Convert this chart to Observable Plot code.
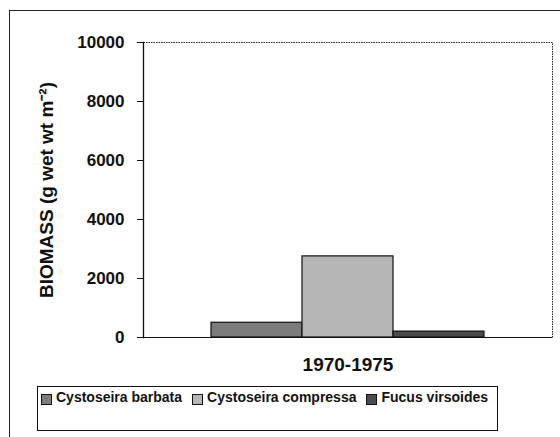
<!DOCTYPE html>
<html><head><meta charset="utf-8">
<script src="https://cdn.jsdelivr.net/npm/d3@7"></script>
<script src="https://cdn.jsdelivr.net/npm/@observablehq/plot@0.6"></script>
<style>
body{margin:0;background:#fff;font-family:"Liberation Sans",Arial,sans-serif;}
#wrap{position:relative;width:560px;height:437px;overflow:hidden;background:#fff;}
#outer{position:absolute;left:9px;top:10px;width:600px;height:500px;border-left:1.5px solid #222;border-top:1.5px solid #222;}
#chart{position:absolute;left:0;top:0;}
#legend{position:absolute;left:37px;top:386px;width:461px;height:45px;border:1px solid #111;box-sizing:border-box;}
#items{position:absolute;left:3px;top:2px;display:flex;align-items:center;gap:10px;}
.item{display:flex;align-items:center;font-size:14px;font-weight:bold;color:#111;white-space:nowrap;}
.sw{width:11px;height:11px;border:1px solid #111;margin-right:4px;margin-top:4px;box-sizing:border-box;}
</style>
</head><body>
<div id="wrap"><div id="outer"></div><div id="chart"></div><div id="legend"><div id="items"></div></div></div>
<script>
const periods = ["1970-1975"];
const species = ["Cystoseira barbata", "Cystoseira compressa", "Fucus virsoides"];
const biomass = [500, 2750, 200];
const fills = ["#7c7c7c", "#b6b6b6", "#4c4c4c"];
const yTicks = [0, 2000, 4000, 6000, 8000, 10000];

const data = species.map((s, i) => ({period: periods[0], species: s, value: biomass[i]}));

const chart = Plot.plot({
  width: 560, height: 380,
  marginLeft: 143, marginRight: 8, marginTop: 42, marginBottom: 43,
  style: {fontFamily: "'Liberation Sans', Arial, sans-serif", fontSize: "17px", fontWeight: "bold", color: "#111", background: "transparent"},
  fx: {domain: periods, padding: 0, label: null},
  x: {domain: species, axis: null, paddingInner: 0, paddingOuter: 0.73},
  y: {domain: [0, 10000]},
  color: {domain: species, range: fills},
  marks: [
    Plot.frame({stroke: "#222", strokeDasharray: "1.5,1"}),
    Plot.barY(data, {fx: "period", x: "species", y: "value", fill: "species", stroke: "#111", strokeWidth: 1.2}),
    Plot.ruleY([0], {stroke: "#111", strokeWidth: 1.2}),
    Plot.frame({anchor: "left", stroke: "#111", strokeWidth: 1.3}),
    Plot.axisY({ticks: yTicks, tickSize: 6, tickPadding: 13, tickFormat: d => String(d), fontSize: 17,
      label: null}),
    Plot.axisY({ticks: [], tickSize: 0, label: "BIOMASS (g wet wt m⁻²)", labelAnchor: "center", labelArrow: "none", labelOffset: 104, fontSize: 19}),
    Plot.axisFx({anchor: "bottom", tickSize: 0, tickPadding: 20, fontSize: 19, label: null})
  ]
});
document.getElementById("chart").appendChild(chart);

const items = document.getElementById("items");
species.forEach((s, i) => {
  const it = document.createElement("div");
  it.className = "item";
  const sw = document.createElement("div");
  sw.className = "sw";
  sw.style.background = fills[i];
  const t = document.createElement("span");
  t.textContent = s;
  it.appendChild(sw); it.appendChild(t);
  items.appendChild(it);
});
</script>
</body></html>
